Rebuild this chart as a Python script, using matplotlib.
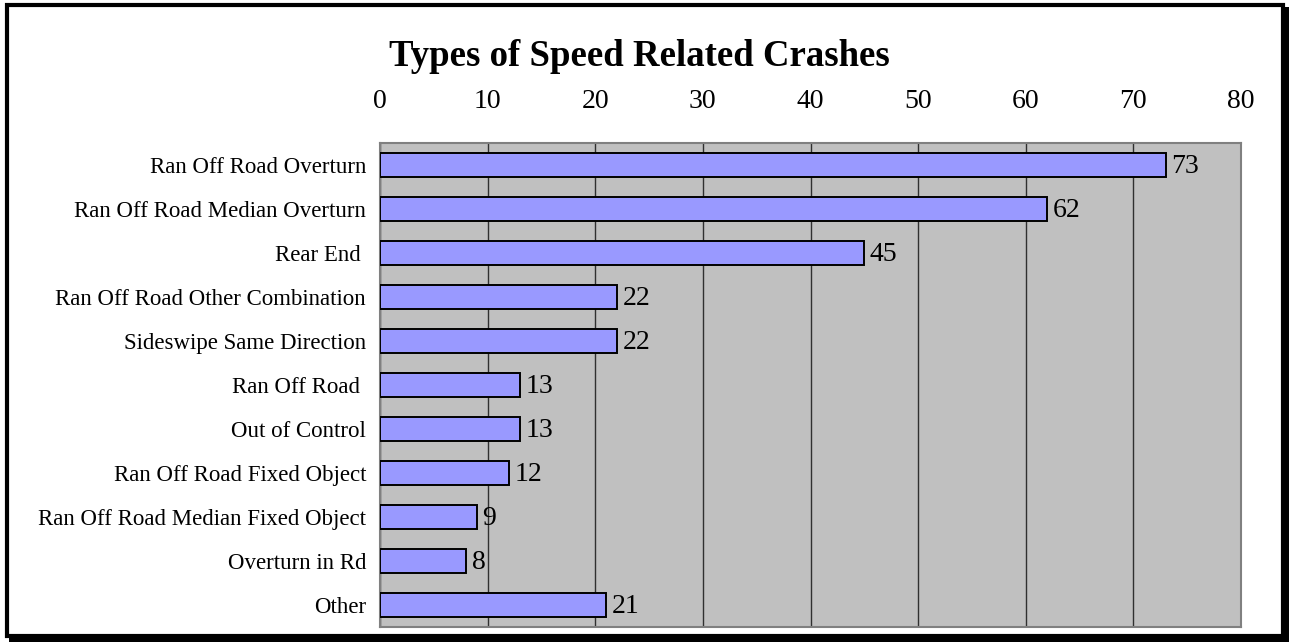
import matplotlib
matplotlib.use("Agg")
import matplotlib.pyplot as plt
from matplotlib.patches import Rectangle

categories = [
    "Ran Off Road Overturn",
    "Ran Off Road Median Overturn",
    "Rear End ",
    "Ran Off Road Other Combination",
    "Sideswipe Same Direction",
    "Ran Off Road ",
    "Out of Control",
    "Ran Off Road Fixed Object",
    "Ran Off Road Median Fixed Object",
    "Overturn in Rd",
    "Other",
]
values = [73, 62, 45, 22, 22, 13, 13, 12, 9, 8, 21]
xticks = [0, 10, 20, 30, 40, 50, 60, 70, 80]
title = "Types of Speed Related Crashes"

plt.rcParams['font.family'] = ['Liberation Serif', 'DejaVu Serif']

W, H = 1289, 642
fig = plt.figure(figsize=(W / 100, H / 100), dpi=100)
fig.patch.set_facecolor('white')

def fx(px):
    return px / W
def fy(py):
    return 1 - py / H

# outer frame with shadow
fig.patches.append(Rectangle((fx(9), fy(642)), fx(1289) - fx(9), fy(636) - fy(642),
                             transform=fig.transFigure, facecolor='black', edgecolor='none'))
fig.patches.append(Rectangle((fx(1281), fy(642)), fx(1289) - fx(1281), fy(7) - fy(642),
                             transform=fig.transFigure, facecolor='black', edgecolor='none'))
fig.patches.append(Rectangle((fx(7), fy(636)), fx(1283) - fx(7), fy(5) - fy(636),
                             transform=fig.transFigure, facecolor='none', edgecolor='black',
                             linewidth=3.0))

ax = fig.add_axes([fx(380), fy(627), fx(1241) - fx(380), fy(143) - fy(627)])
ax.set_facecolor('#C0C0C0')

y = list(range(len(categories)))
ax.barh(y, values, height=0.55, color='#9999FF', edgecolor='black', linewidth=1.4, zorder=3)

ax.set_xlim(0, 80)
ax.set_ylim(len(categories) - 0.5, -0.5)
ax.set_xticks(xticks)
ax.set_xticklabels([str(t) for t in xticks])
ax.xaxis.tick_top()
ax.tick_params(axis='x', length=0, pad=21, labelsize=20)
ax.set_yticks(y)
ax.set_yticklabels(categories)
ax.tick_params(axis='y', length=0, pad=10, labelsize=16.5)

ax.grid(axis='x', color='#303030', linewidth=1.0, zorder=1)
ax.grid(axis='y', visible=False)
for s in ax.spines.values():
    s.set_color('#808080')
    s.set_linewidth(1.5)

for yi, v in zip(y, values):
    ax.annotate(str(v), xy=(v, yi), xytext=(4, -1), textcoords='offset points',
                ha='left', va='center', fontsize=20, zorder=4)

fig.text(fx(639), fy(57), title, ha='center', va='center', fontsize=26.5, fontweight='bold')

fig.savefig('out.png', dpi=100)
